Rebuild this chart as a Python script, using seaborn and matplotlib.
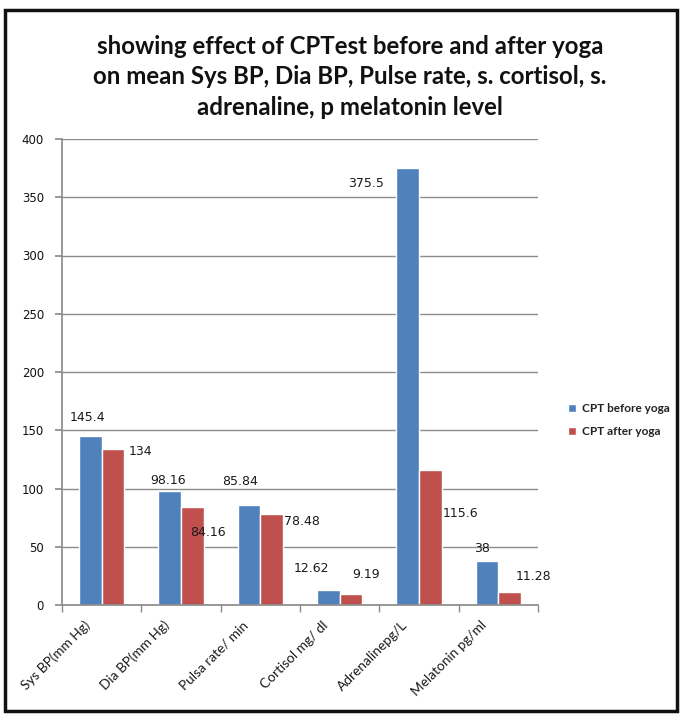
import matplotlib
matplotlib.use("Agg")
import matplotlib.pyplot as plt
import matplotlib.transforms as mtransforms
import seaborn as sns
import pandas as pd
from matplotlib.patches import Rectangle

categories = ["Sys BP(mm Hg)", "Dia BP(mm Hg)", "Pulsa rate/ min",
              "Cortisol mg/ dl", "Adrenalinepg/L", "Melatonin pg/ml"]
before = [145.4, 98.16, 85.84, 12.62, 375.5, 38]
after = [134, 84.16, 78.48, 9.19, 115.6, 11.28]
series = ["CPT before yoga", "CPT after yoga"]
before_labels = ["145.4", "98.16", "85.84", "12.62", "375.5", "38"]
after_labels = ["134", "84.16", "78.48", "9.19", "115.6", "11.28"]
yticks = [0, 50, 100, 150, 200, 250, 300, 350, 400]

# label offsets in pixels (dx, dy) relative to bar top centre
before_off = [(-3, 18), (-2, 10), (-9, 23), (-17, 22), (-42, -16), (-5, 12)]
after_off = [(28, -3), (16, -26), (30, -8), (15, 20), (30, -43), (24, 15)]

df = pd.DataFrame({
    "category": categories * 2,
    "value": before + after,
    "series": [series[0]] * len(categories) + [series[1]] * len(categories),
})

sns.set_theme(style="white")
plt.rcParams["font.family"] = ["DejaVu Sans"]

fig = plt.figure(figsize=(6.83, 7.18), dpi=100)
ax = fig.add_axes([62 / 683, 1 - 605 / 718, (538 - 62) / 683, (605 - 139) / 718])

colors = ["#4F81BD", "#C0504D"]
sns.barplot(data=df, x="category", y="value", hue="series", palette=colors,
            width=0.57, saturation=1, ax=ax, legend=True, order=categories,
            hue_order=series)

ax.set_ylim(0, 400)
ax.set_xlim(-0.5, len(categories) - 0.5)
ax.set_yticks(yticks)
ax.set_yticklabels([str(v) for v in yticks], fontsize=8.5, color="#111111")
ax.set_xlabel("")
ax.set_ylabel("")
ax.yaxis.grid(True, color="#8c8c8c", linewidth=1)
ax.set_axisbelow(True)
for s in ["top", "right"]:
    ax.spines[s].set_visible(False)
ax.spines["left"].set_color("#8c8c8c")
ax.spines["bottom"].set_color("#8c8c8c")
ax.tick_params(axis="y", which="major", left=True, length=5, color="#8c8c8c", pad=8)

ax.set_xticks(range(len(categories)))
ax.set_xticks([i + 0.5 for i in range(-1, len(categories))], minor=True)
ax.tick_params(axis="x", which="major", bottom=False, pad=4)
ax.tick_params(axis="x", which="minor", bottom=True, length=5, color="#8c8c8c")
ax.set_xticklabels(categories, rotation=45, ha="right", rotation_mode="anchor",
                   fontsize=9.8, family="Lato", color="#1a1a1a")
shift = mtransforms.ScaledTranslation(-18 / 100, 0, fig.dpi_scale_trans)
for lab in ax.get_xticklabels():
    lab.set_transform(lab.get_transform() + shift)

for cont, labels, offs in [(ax.containers[0], before_labels, before_off),
                           (ax.containers[1], after_labels, after_off)]:
    for p, lab, (dx, dy) in zip(cont.patches, labels, offs):
        x = p.get_x() + p.get_width() / 2
        y = p.get_height()
        ax.annotate(lab, (x, y), xytext=(dx, dy), textcoords="offset pixels",
                    ha="center", va="center", fontsize=9, color="#1a1a1a")

leg = ax.legend(loc="center left", bbox_to_anchor=(557 / 683, 1 - 420 / 718),
                bbox_transform=fig.transFigure, frameon=False,
                prop={"family": "Lato", "size": 8.5, "weight": "bold"},
                handlelength=0.7, handleheight=0.7, handletextpad=0.5,
                labelspacing=1.0)
for t in leg.get_texts():
    t.set_color("#222222")

fig.text(350 / 683, 1 - 77 / 718,
         "showing effect of CPTest before and after yoga\non mean Sys BP, Dia BP, Pulse rate, s. cortisol, s.\nadrenaline, p melatonin level",
         ha="center", va="center", fontsize=17.3, family="Lato", weight="bold",
         linespacing=1.38, color="#111111")

fig.patches.append(Rectangle((5 / 683, 1 - 711 / 718), 672 / 683, 701 / 718,
                             transform=fig.transFigure, fill=False,
                             edgecolor="#111111", linewidth=2.5, zorder=10))

fig.savefig("out.png", dpi=100)
